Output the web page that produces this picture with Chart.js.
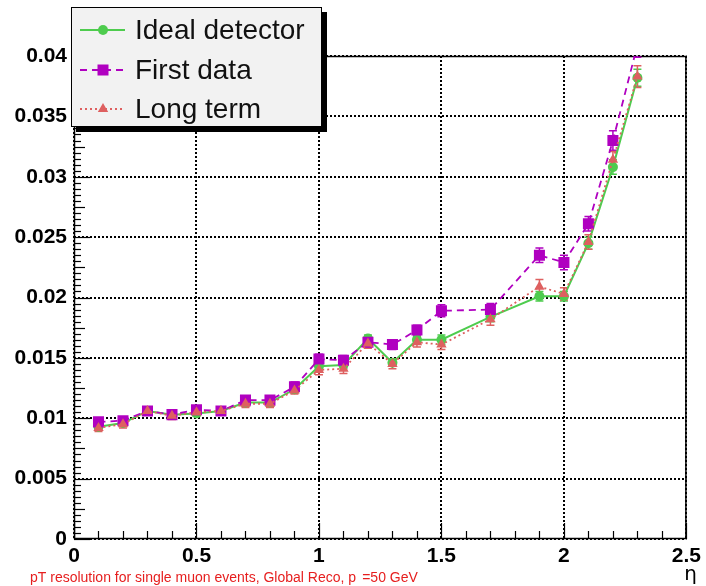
<!DOCTYPE html>
<html>
<head>
<meta charset="utf-8">
<script src="https://cdn.jsdelivr.net/npm/chart.js@4/dist/chart.umd.min.js"></script>
<style>
  html, body { margin: 0; padding: 0; background: #ffffff; }
  canvas { display: block; }
</style>
</head>
<body>
<canvas id="chart" width="706" height="586"></canvas>
<script>
// Pseudorapidity bins
const etaValues = [0.1, 0.2, 0.3, 0.4, 0.5, 0.6, 0.7, 0.8, 0.9, 1.0, 1.1, 1.2, 1.3, 1.4, 1.5, 1.7, 1.9, 2.0, 2.1, 2.2, 2.3];

// pT resolution per scenario
const idealDetector = [0.0093, 0.0096, 0.0106, 0.0103, 0.0104, 0.0106, 0.0113, 0.0113, 0.0124, 0.0143, 0.0144, 0.0166, 0.0146, 0.0165, 0.0165, 0.0184, 0.0201, 0.0201, 0.0245, 0.0308, 0.0382];
const firstData     = [0.0097, 0.0098, 0.0106, 0.0103, 0.0107, 0.0106, 0.0115, 0.0115, 0.0126, 0.0149, 0.0148, 0.0163, 0.0161, 0.0173, 0.0189, 0.0190, 0.0235, 0.0229, 0.0261, 0.0330, 0.0409];
const longTerm      = [0.0092, 0.0095, 0.0106, 0.0102, 0.0105, 0.0106, 0.0112, 0.0112, 0.0123, 0.0140, 0.0141, 0.0162, 0.0145, 0.0163, 0.0161, 0.0182, 0.0209, 0.0203, 0.0246, 0.0314, 0.0383];

// Statistical uncertainties
const idealErr = [0.0002, 0.0002, 0.0002, 0.0002, 0.0002, 0.0002, 0.0003, 0.0003, 0.0003, 0.0003, 0.0003, 0.0003, 0.0003, 0.0003, 0.0004, 0.0004, 0.0004, 0.0004, 0.0005, 0.0006, 0.0007];
const firstErr = [0.0003, 0.0003, 0.0003, 0.0003, 0.0003, 0.0003, 0.0003, 0.0003, 0.0004, 0.0004, 0.0004, 0.0004, 0.0004, 0.0004, 0.0005, 0.0005, 0.0006, 0.0006, 0.0006, 0.0008, 0.0010];
const longErr  = [0.0003, 0.0003, 0.0003, 0.0003, 0.0003, 0.0003, 0.0003, 0.0003, 0.0003, 0.0004, 0.0004, 0.0004, 0.0004, 0.0004, 0.0004, 0.0005, 0.0006, 0.0005, 0.0006, 0.0007, 0.0009];

// Axis ticks
const xTickValues = [0, 0.5, 1, 1.5, 2, 2.5];
const yTickValues = [0, 0.005, 0.01, 0.015, 0.02, 0.025, 0.03, 0.035, 0.04];

const seriesNames = ['Ideal detector', 'First data', 'Long term'];
const captionMain = 'pT resolution for single muon events, Global Reco, p';
const captionSub = 'T';
const captionTail = '=50 GeV';
const xAxisTitle = 'η';

const GREEN = 'rgb(78,204,78)';
const PURPLE = 'rgb(176,0,192)';
const SALMON = 'rgb(222,96,96)';

function toPoints(xs, ys, errs) {
  return xs.map((x, i) => ({ x: x, y: ys[i], err: errs[i] }));
}

const tickFont = { family: '"Liberation Sans", Arial, sans-serif', size: 21, weight: 'bold' };

// Dotted grid, inward ticks and plot frame
const framePlugin = {
  id: 'frame',
  beforeDatasetsDraw(chart) {
    const { ctx, chartArea: { left, right, top, bottom }, scales: { x, y } } = chart;
    ctx.save();
    ctx.strokeStyle = '#000';
    ctx.lineWidth = 2;
    ctx.setLineDash([2, 2]);
    xTickValues.forEach(v => {
      const px = Math.round(x.getPixelForValue(v));
      ctx.beginPath(); ctx.moveTo(px, top); ctx.lineTo(px, bottom); ctx.stroke();
    });
    yTickValues.forEach(v => {
      const py = Math.round(y.getPixelForValue(v));
      ctx.beginPath(); ctx.moveTo(left, py); ctx.lineTo(right, py); ctx.stroke();
    });
    ctx.setLineDash([]);
    ctx.lineWidth = 1.2;
    // y-axis ticks: major every 0.005, medium every 0.0025, minor every 0.0005
    for (let k = 0; k <= 80; k++) {
      const py = Math.round(y.getPixelForValue(k * 0.0005)) + 0.5;
      const len = (k % 10 === 0) ? 16 : (k % 5 === 0 ? 11 : 7);
      ctx.beginPath(); ctx.moveTo(left, py); ctx.lineTo(left + len, py); ctx.stroke();
    }
    // x-axis ticks: major every 0.5, minor every 0.1
    for (let k = 0; k <= 25; k++) {
      const px = Math.round(x.getPixelForValue(k * 0.1)) + 0.5;
      const len = (k % 5 === 0) ? 16 : 8;
      ctx.beginPath(); ctx.moveTo(px, bottom); ctx.lineTo(px, bottom - len); ctx.stroke();
    }
    ctx.lineWidth = 1.5;
    ctx.strokeRect(left + 0.5, top + 0.5, right - left - 1, bottom - top - 1);
    ctx.restore();
  }
};

// Vertical error bars with caps, beneath the markers
const errorBarPlugin = {
  id: 'errorBars',
  beforeDatasetsDraw(chart) {
    const { ctx, chartArea, scales: { y } } = chart;
    ctx.save();
    ctx.beginPath();
    ctx.rect(chartArea.left, chartArea.top, chartArea.right - chartArea.left, chartArea.bottom - chartArea.top);
    ctx.clip();
    chart.data.datasets.forEach((ds, i) => {
      const meta = chart.getDatasetMeta(i);
      ctx.strokeStyle = ds.borderColor;
      ctx.lineWidth = 1.5;
      meta.data.forEach((pt, j) => {
        const d = ds.data[j];
        const y1 = y.getPixelForValue(d.y + d.err);
        const y2 = y.getPixelForValue(d.y - d.err);
        ctx.beginPath();
        ctx.moveTo(pt.x, y1); ctx.lineTo(pt.x, y2);
        ctx.moveTo(pt.x - 4, y1); ctx.lineTo(pt.x + 4, y1);
        ctx.moveTo(pt.x - 4, y2); ctx.lineTo(pt.x + 4, y2);
        ctx.stroke();
      });
    });
    ctx.restore();
  }
};

function drawMarker(ctx, style, color, cx, cy) {
  ctx.fillStyle = color;
  ctx.beginPath();
  if (style === 'circle') {
    ctx.arc(cx, cy, 5, 0, Math.PI * 2);
  } else if (style === 'rect') {
    ctx.rect(cx - 5.5, cy - 5.5, 11, 11);
  } else {
    const r = 6;
    ctx.moveTo(cx, cy - r);
    ctx.lineTo(cx + r * 0.866, cy + r * 0.5);
    ctx.lineTo(cx - r * 0.866, cy + r * 0.5);
    ctx.closePath();
  }
  ctx.fill();
}

// Boxed legend with drop shadow, plus caption and axis title
const legendPlugin = {
  id: 'boxLegend',
  afterDraw(chart) {
    const ctx = chart.ctx;
    ctx.save();
    const bx = 71, by = 7, bw = 251, bh = 120;
    ctx.fillStyle = '#000';
    ctx.fillRect(bx + 5, by + 5, bw, bh);
    ctx.fillStyle = '#f2f2f2';
    ctx.fillRect(bx, by, bw, bh);
    ctx.strokeStyle = '#000';
    ctx.lineWidth = 1;
    ctx.strokeRect(bx + 0.5, by + 0.5, bw - 1, bh - 1);

    const rows = [30, 70, 109];
    chart.data.datasets.forEach((ds, i) => {
      const yy = rows[i];
      ctx.strokeStyle = ds.borderColor;
      ctx.lineWidth = ds.borderWidth;
      ctx.setLineDash(ds.borderDash || []);
      ctx.beginPath(); ctx.moveTo(80, yy); ctx.lineTo(125, yy); ctx.stroke();
      ctx.setLineDash([]);
      drawMarker(ctx, ds.pointStyle, ds.borderColor, 103, yy);
      ctx.fillStyle = '#111';
      ctx.font = '28px "Liberation Sans", Arial, sans-serif';
      ctx.textBaseline = 'middle';
      ctx.textAlign = 'left';
      ctx.fillText(ds.label, 135, yy + 1);
    });

    // caption
    ctx.fillStyle = 'rgb(230,30,30)';
    ctx.font = '14px "Liberation Sans", Arial, sans-serif';
    ctx.textBaseline = 'alphabetic';
    ctx.textAlign = 'left';
    let cx = 30;
    ctx.fillText(captionMain, cx, 582);
    cx += ctx.measureText(captionMain).width;
    ctx.font = '10px "Liberation Sans", Arial, sans-serif';
    ctx.fillText(captionSub, cx, 594);
    cx += ctx.measureText(captionSub).width;
    ctx.font = '14px "Liberation Sans", Arial, sans-serif';
    ctx.fillText(captionTail, cx, 582);

    // axis title
    ctx.fillStyle = '#000';
    ctx.font = '20px "DejaVu Sans", sans-serif';
    ctx.textAlign = 'right';
    ctx.fillText(xAxisTitle, 697, 580);
    ctx.restore();
  }
};

new Chart(document.getElementById('chart'), {
  type: 'line',
  data: {
    datasets: [
      {
        label: seriesNames[0],
        data: toPoints(etaValues, idealDetector, idealErr),
        borderColor: GREEN, backgroundColor: GREEN,
        borderWidth: 2, borderDash: [],
        pointStyle: 'circle', pointRadius: 5, pointBorderWidth: 0,
        order: 3
      },
      {
        label: seriesNames[1],
        data: toPoints(etaValues, firstData, firstErr),
        borderColor: PURPLE, backgroundColor: PURPLE,
        borderWidth: 1.8, borderDash: [7, 5],
        pointStyle: 'rect', pointRadius: 7.8, pointBorderWidth: 0,
        order: 2
      },
      {
        label: seriesNames[2],
        data: toPoints(etaValues, longTerm, longErr),
        borderColor: SALMON, backgroundColor: SALMON,
        borderWidth: 1.8, borderDash: [2, 3],
        pointStyle: 'triangle', pointRadius: 6, pointBorderWidth: 0,
        order: 1
      }
    ]
  },
  options: {
    responsive: false,
    animation: false,
    devicePixelRatio: 1,
    layout: { padding: { left: 0, top: 56, right: 12, bottom: 0 } },
    plugins: { legend: { display: false }, tooltip: { enabled: false } },
    elements: { line: { tension: 0, fill: false } },
    scales: {
      x: {
        type: 'linear', min: 0, max: 2.5,
        grid: { display: false, drawTicks: false }, border: { display: false },
        afterBuildTicks: s => { s.ticks = xTickValues.map(v => ({ value: v })); },
        afterFit: s => { s.height = 47; },
        ticks: { color: '#000', font: tickFont, padding: 5, maxRotation: 0, autoSkip: false,
                 callback: v => String(v) }
      },
      y: {
        type: 'linear', min: 0, max: 0.04,
        grid: { display: false, drawTicks: false }, border: { display: false },
        afterBuildTicks: s => { s.ticks = yTickValues.map(v => ({ value: v })); },
        afterFit: s => { s.width = 74; },
        ticks: { color: '#000', font: tickFont, padding: 7, autoSkip: false,
                 callback: v => String(v) }
      }
    }
  },
  plugins: [framePlugin, errorBarPlugin, legendPlugin]
});
</script>
</body>
</html>
